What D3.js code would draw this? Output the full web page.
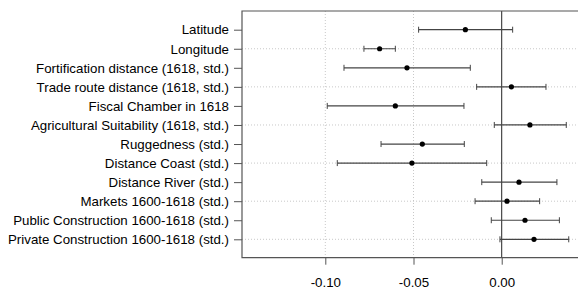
<!DOCTYPE html>
<html><head><meta charset="utf-8">
<script src="https://cdn.jsdelivr.net/npm/d3@7"></script>
<style>body{margin:0;background:#fff}svg{display:block}text{font-family:"Liberation Sans",Arial,sans-serif;fill:#000}</style>
</head><body>
<svg id="c" width="578" height="290"></svg>
<script>
const labels = ["Latitude","Longitude","Fortification distance (1618, std.)","Trade route distance (1618, std.)","Fiscal Chamber in 1618","Agricultural Suitability (1618, std.)","Ruggedness (std.)","Distance Coast (std.)","Distance River (std.)","Markets 1600-1618 (std.)","Public Construction 1600-1618 (std.)","Private Construction 1600-1618 (std.)"];
const estimates = [-0.0206,-0.0692,-0.0537,0.0055,-0.0603,0.0160,-0.0450,-0.0509,0.0098,0.0030,0.0132,0.0183];
const lower = [-0.0471,-0.0781,-0.0894,-0.0142,-0.0989,-0.0042,-0.0684,-0.0932,-0.0113,-0.0151,-0.0059,-0.0010];
const upper = [0.0062,-0.0603,-0.0178,0.0251,-0.0214,0.0366,-0.0212,-0.0085,0.0313,0.0215,0.0327,0.0380];
const xTicks = [-0.10,-0.05,0.00];

const svg = d3.select("#c");
const L=242, R=580, T=11, B=257.7;
const x = d3.scaleLinear().domain([-0.14722,0.04325]).range([L,578]);
const y = d3.scalePoint().domain(labels).range([29.7,239.3]);

// grid
svg.append("g").selectAll("line").data(labels.filter((d,i)=>i%2===1)).join("line")
  .attr("x1",L).attr("x2",R).attr("y1",d=>y(d)).attr("y2",d=>y(d))
  .attr("stroke","#c8c8c8").attr("stroke-dasharray","1,2").attr("stroke-width",1);
svg.append("g").selectAll("line").data(xTicks.filter(d=>d!==0)).join("line")
  .attr("x1",d=>x(d)).attr("x2",d=>x(d)).attr("y1",T).attr("y2",B)
  .attr("stroke","#c8c8c8").attr("stroke-dasharray","1,2").attr("stroke-width",1);
// zero line
svg.append("line").attr("x1",x(0)).attr("x2",x(0)).attr("y1",T).attr("y2",B).attr("stroke","#222").attr("stroke-width",1);

// box
svg.append("path").attr("d",`M${R},${T}H${L}V${B}H${R}`).attr("fill","none").attr("stroke","#555").attr("stroke-width",1.2);

// y axis
const ya = svg.append("g").attr("transform",`translate(${L},0)`)
  .call(d3.axisLeft(y).tickSize(8).tickPadding(5));
ya.select(".domain").remove();
ya.selectAll(".tick line").attr("stroke","#555");
ya.selectAll("text").style("font-size","13.3px").attr("fill","#000");

// x axis
const xa = svg.append("g").attr("transform",`translate(0,${B})`)
  .call(d3.axisBottom(x).tickValues(xTicks).tickFormat(d3.format(".2f")).tickSize(7).tickPadding(13));
xa.select(".domain").remove();
xa.selectAll(".tick line").attr("stroke","#555");
xa.selectAll("text").style("font-size","13.3px").attr("fill","#000").text(d=>d3.format(".2f")(d).replace("−","-"));

// error bars
const g = svg.append("g");
labels.forEach((lab,i)=>{
  const yy=y(lab);
  g.append("line").attr("x1",x(lower[i])).attr("x2",x(upper[i])).attr("y1",yy).attr("y2",yy).attr("stroke","#444").attr("stroke-width",1.2);
  [lower[i],upper[i]].forEach(v=>g.append("line").attr("x1",x(v)).attr("x2",x(v)).attr("y1",yy-3).attr("y2",yy+3).attr("stroke","#444").attr("stroke-width",1));
  g.append("circle").attr("cx",x(estimates[i])).attr("cy",yy).attr("r",2.6).attr("fill","#000");
});
</script>
</body></html>
